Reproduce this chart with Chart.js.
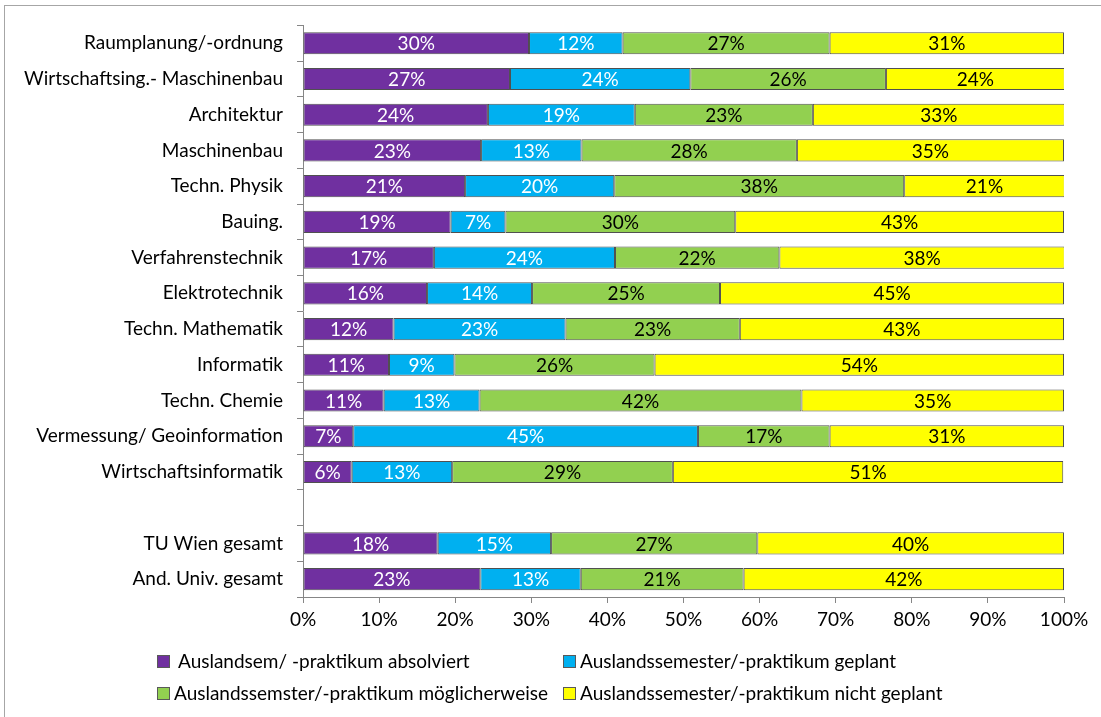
<!DOCTYPE html>
<html>
<head>
<meta charset="utf-8">
<script src="https://cdn.jsdelivr.net/npm/chart.js@4.4.0/dist/chart.umd.min.js"></script>
<style>
  body { margin: 0; background: #fff; font-family: Lato, sans-serif; }
  #wrap { position: relative; width: 1101px; height: 717px; }
  #frame { position: absolute; left: 4px; top: 5px; right: -2px; bottom: -2px; border-left: 1px solid #a6a6a6; border-top: 1px solid #a6a6a6; }
  #legend { position: absolute; left: 0; top: 0; font-size: 19px; color: #000; }
  .item { position: absolute; white-space: nowrap; line-height: 22px; }
  .box { position: absolute; width: 11px; height: 11px; border: 1px solid #595959; top: 5px; }
</style>
</head>
<body>
<div id="wrap">
  <div id="frame"></div>
  <canvas id="chart"></canvas>
  <div id="legend"></div>
</div>
<script>
const categories = ['Raumplanung/-ordnung', 'Wirtschaftsing.- Maschinenbau', 'Architektur', 'Maschinenbau',
    'Techn. Physik', 'Bauing.', 'Verfahrenstechnik', 'Elektrotechnik', 'Techn. Mathematik', 'Informatik',
    'Techn. Chemie', 'Vermessung/ Geoinformation', 'Wirtschaftsinformatik', '', 'TU Wien gesamt', 'And. Univ. gesamt'];

const seriesNames = ['Auslandsem/ -praktikum absolviert', 'Auslandssemester/-praktikum geplant',
    'Auslandssemster/-praktikum möglicherweise', 'Auslandssemester/-praktikum nicht geplant'];

const absolviert = [29.7, 27.2, 24.3, 23.4, 21.3, 19.4, 17.2, 16.3, 11.9, 11.3, 10.6, 6.6, 6.4, null, 17.7, 23.3];
const geplant = [12.3, 23.7, 19.3, 13.2, 19.6, 7.2, 23.8, 13.8, 22.6, 8.6, 12.6, 45.3, 13.2, null, 14.9, 13.2];
const moeglich = [27.2, 25.7, 23.4, 28.3, 38.1, 30.2, 21.6, 24.7, 22.9, 26.3, 42.3, 17.3, 29.0, null, 27.1, 21.4];
const nichtGeplant = [30.8, 23.5, 33.1, 35.1, 21.1, 43.2, 37.5, 45.2, 42.6, 53.8, 34.5, 30.8, 51.3, null, 40.3, 42.1];

const xTicks = [0, 10, 20, 30, 40, 50, 60, 70, 80, 90, 100];

const colors = ['#7030A0', '#00B0F0', '#92D050', '#FFFF00'];
const labelColors = ['#ffffff', '#ffffff', '#000000', '#000000'];
const fontFamily = 'Lato, sans-serif';
const fontSize = 19;

const barLabels = {
    id: 'barLabels',
    afterDatasetsDraw(chart) {
        const ctx = chart.ctx;
        ctx.save();
        ctx.font = fontSize + 'px ' + fontFamily;
        ctx.textAlign = 'center';
        ctx.textBaseline = 'middle';
        chart.data.datasets.forEach((ds, i) => {
            const meta = chart.getDatasetMeta(i);
            meta.data.forEach((bar, j) => {
                const v = ds.data[j];
                if (v == null) return;
                ctx.fillStyle = labelColors[i];
                ctx.fillText(Math.round(v) + '%', (bar.x + bar.base) / 2, bar.y + 1);
            });
        });
        ctx.restore();
    }
};

const ctx = document.getElementById('chart').getContext('2d');
const chart = new Chart(ctx, {
    type: 'bar',
    data: {
        labels: categories,
        datasets: [absolviert, geplant, moeglich, nichtGeplant].map((d, i) => ({
            label: seriesNames[i],
            data: d,
            backgroundColor: colors[i],
            borderColor: '#505050',
            borderWidth: 1,
            borderSkipped: false,
            categoryPercentage: 1,
            barPercentage: 0.62
        }))
    },
    options: {
        indexAxis: 'y',
        responsive: true,
        maintainAspectRatio: false,
        animation: false,
        layout: { padding: { left: 0, right: 37, top: 22, bottom: 80 } },
        plugins: { legend: { display: false }, tooltip: { enabled: false } },
        scales: {
            x: {
                stacked: true,
                min: 0,
                max: 100,
                afterBuildTicks: s => { s.ticks = xTicks.map(v => ({ value: v })); },
                afterFit: s => { s.height = 40; },
                border: { color: '#868686', width: 1 },
                grid: { drawOnChartArea: false, drawTicks: true, tickLength: 6, color: '#868686' },
                ticks: { color: '#000', font: { family: fontFamily, size: fontSize }, padding: 5, callback: v => v + '%' }
            },
            y: {
                stacked: true,
                afterFit: s => { s.width = 303; },
                border: { color: '#868686', width: 1 },
                grid: { drawOnChartArea: false, drawTicks: true, tickLength: 6, color: '#868686', offset: true },
                ticks: { color: '#000', font: { family: fontFamily, size: fontSize }, padding: 14, autoSkip: false }
            }
        }
    },
    plugins: [barLabels]
});

// legend laid out in two rows like the original
const legendPos = [[157, 650], [563, 650], [157, 682], [563, 682]];
const legend = document.getElementById('legend');
seriesNames.forEach((name, i) => {
    const item = document.createElement('div');
    item.className = 'item';
    item.style.left = legendPos[i][0] + 'px';
    item.style.top = legendPos[i][1] + 'px';
    item.innerHTML = '<span class="box" style="left:0;background:' + colors[i] + '"></span>' +
        '<span style="margin-left:' + (i === 0 ? 21 : 17) + 'px">' + name + '</span>';
    legend.appendChild(item);
});
</script>
</body>
</html>
